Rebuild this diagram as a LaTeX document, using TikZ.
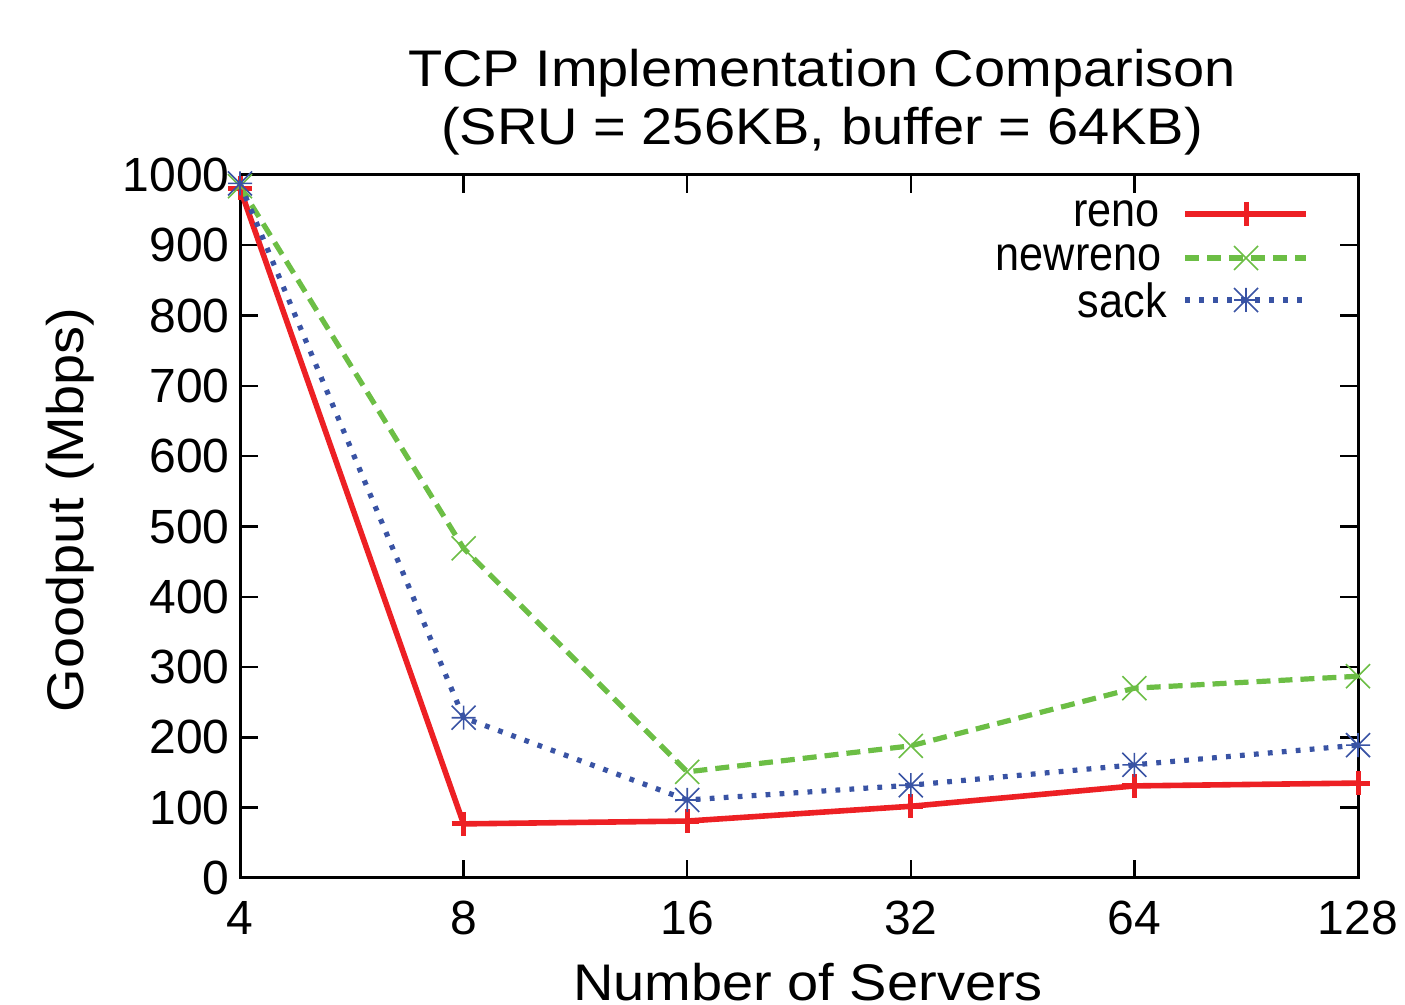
\documentclass[tikz,border=0pt]{standalone}
\usepackage{fontspec}
\setmainfont{Liberation Sans}
\definecolor{renoc}{RGB}{237,32,36}
\definecolor{newrenoc}{RGB}{108,190,69}
\definecolor{sackc}{RGB}{57,83,164}
\newcommand{\wide}[1]{\scalebox{1.12}[1.03]{#1}}
\newcommand{\narrow}[1]{\scalebox{0.9}[1]{#1}}
\begin{document}
\begin{tikzpicture}[x=0.5pt,y=-0.5pt,
  lbl/.style={font=\fontsize{24}{28}\selectfont, inner sep=0pt},
  biglbl/.style={font=\fontsize{25}{30}\selectfont, inner sep=0pt},
  axisline/.style={line width=1.5pt, black},
  tickline/.style={line width=1.2pt, black},
  renoline/.style={renoc, line width=2.8pt, line join=round},
  newrenoline/.style={newrenoc, line width=2.6pt, dash pattern=on 7pt off 4pt},
  sackline/.style={sackc, line width=2.6pt, dash pattern=on 2.4pt off 4.6pt},
  plusmark/.pic={\draw[renoc, line width=2.5pt] (-12,0)--(12,0) (0,-12)--(0,12);},
  crossmark/.pic={\draw[newrenoc, line width=0.8pt] (-12,-12)--(12,12) (-12,12)--(12,-12);},
  starmark/.pic={\draw[sackc, line width=0.8pt] (-12,0)--(12,0) (0,-12)--(0,12) (-12,-12)--(12,12) (-12,12)--(12,-12);}
]
\useasboundingbox (0,0) rectangle (1405,1005);
% axes frame
\coordinate (bl) at (240,878);
\coordinate (tr) at (1358,175);
% ticks
\foreach \v in {0,100,...,1000}{
  \draw[tickline] (240,{878-0.703*\v}) -- ++(18,0);
  \draw[tickline] (1358,{878-0.703*\v}) -- ++(-18,0);
  \node[lbl, anchor=east] (yl\v) at (230,{878-0.703*\v}) {\v};
}
\foreach \i/\t in {0/4,1/8,2/16,3/32,4/64,5/128}{
  \draw[tickline] ({240+223.6*\i},878) -- ++(0,-18);
  \draw[tickline] ({240+223.6*\i},175) -- ++(0,18);
  \node[lbl] (xl\t) at ({240+223.6*\i},918) {\t};
}
\draw[axisline] (bl) rectangle (tr);
% data coordinates
\foreach \s/\vals in {r/{981,77,81,102,131,135}, n/{984,469,151,188,270,287}, s/{988,228,111,132,161,189}}{
  \foreach \v [count=\k from 0] in \vals {
    \coordinate (\s\k) at ({240+223.6*\k},{878-0.703*\v});
  }
}
% series
\draw[renoline] (r0)--(r1)--(r2)--(r3)--(r4)--(r5);
\draw[newrenoline] (n0)--(n1)--(n2)--(n3)--(n4)--(n5);
\draw[sackline] (s0)--(s1)--(s2)--(s3)--(s4)--(s5);
\foreach \k in {0,...,5}{
  \pic at (r\k) {plusmark};
  \pic at (n\k) {crossmark};
  \pic at (s\k) {starmark};
}
% legend
\node[lbl, anchor=east] (lr) at (1160,214) {\narrow{reno}};
\node[lbl, anchor=east] (ln) at (1162,258) {\narrow{newreno}};
\node[lbl, anchor=east] (ls) at (1167,300) {\narrow{sack}};
\coordinate (lra) at (1185,214); \coordinate (lrb) at (1306,214);
\coordinate (lna) at (1185,258); \coordinate (lnb) at (1306,258);
\coordinate (lsa) at (1185,300); \coordinate (lsb) at (1306,300);
\draw[renoline] (lra)--(lrb);
\draw[newrenoline] (lna)--(lnb);
\draw[sackline] (lsa)--(lsb);
\pic at (1246,214) {plusmark};
\pic at (1246,258) {crossmark};
\pic at (1246,300) {starmark};
% titles
\node[biglbl] (t1) at (822,73) {\wide{TCP Implementation Comparison}};
\node[biglbl] (t2) at (822,131) {\wide{(SRU = 256KB, buffer = 64KB)}};
\node[biglbl, rotate=90] (ylab) at (70,510) {\wide{Goodput (Mbps)}};
\node[biglbl] (xlab) at (808,982) {\wide{Number of Servers}};
\end{tikzpicture}
\end{document}
